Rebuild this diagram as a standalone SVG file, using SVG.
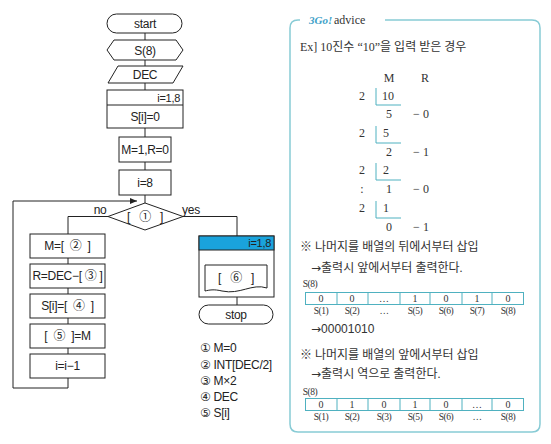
<svg xmlns="http://www.w3.org/2000/svg" width="551" height="444" viewBox="0 0 551 444">
<style>
.box{fill:#fff;stroke:#222;stroke-width:1}
.ln{fill:none;stroke:#222;stroke-width:1}
.ft{font-family:"Liberation Sans",Arial,"Noto Sans CJK KR",sans-serif;font-size:12px;fill:#222;text-anchor:middle;letter-spacing:-0.3px;white-space:pre}
.fr{font-family:"Liberation Sans",Arial,sans-serif;font-size:11px;fill:#222;text-anchor:end;letter-spacing:-0.3px}
.ans{font-family:"Liberation Sans","DejaVu Sans",sans-serif;font-size:12px;fill:#222;letter-spacing:-0.3px}
.kr{font-family:"Liberation Serif","Noto Sans CJK KR",serif;font-size:12px;fill:#333}
.ar{font-family:"DejaVu Sans",sans-serif;font-size:12px}
.sf{font-family:"Liberation Serif",serif;font-size:12px;fill:#333;text-anchor:middle}
.cv{font-family:"Liberation Serif",serif;font-size:10px;fill:#333;text-anchor:middle}
.cl{font-family:"Liberation Serif",serif;font-size:9.5px;fill:#333;text-anchor:middle;letter-spacing:-0.5px}
.teal{fill:none;stroke:#4fb1c0;stroke-width:1}
</style>
<defs>
<marker id="arr" markerWidth="8" markerHeight="8" refX="7" refY="4" orient="auto" markerUnits="userSpaceOnUse">
<path d="M0,1 L7,4 L0,7 Z" fill="#222"/>
</marker>
</defs>

<g id="connectors">
<path class="ln" d="M145,33 V40 M145,60 V66 M145,83 V90 M145,128 V137 M145,162 V170 M145,195 V203"/>
<path class="ln" d="M108,216.5 H68 V234 M68,258 V264 M68,288 V294 M68,318 V324 M68,348 V354"/>
<path class="ln" d="M68,378 V388 H13 V201 H137" marker-end="url(#arr)"/>
<path class="ln" d="M183,216.5 H237 V236 M237,250 V265 M237,297 V305"/>
</g>

<g id="start"><rect class="box" x="107" y="14" width="75" height="19" rx="9.5"/><text class="ft" x="145" y="28">start</text></g>
<g id="s8"><polygon class="box" points="114,40 176,40 183,50 176,60 114,60 107,50"/><text class="ft" x="145" y="55">S(8)</text></g>
<g id="dec"><polygon class="box" points="118,66 183,66 173,83 108,83"/><text class="ft" x="145" y="79">DEC</text></g>
<g id="loop1"><rect class="box" x="107" y="90" width="76" height="38"/><line class="ln" x1="107" y1="105" x2="183" y2="105"/><text class="fr" x="180" y="102">i=1,8</text><text class="ft" x="145" y="121">S[i]=0</text></g>
<g id="m1r0"><rect class="box" x="119" y="137" width="52" height="25"/><text class="ft" x="145" y="154">M=1,R=0</text></g>
<g id="i8"><rect class="box" x="119" y="170" width="52" height="25"/><text class="ft" x="145" y="187">i=8</text></g>
<g id="cond"><polygon class="box" points="108,216.5 145,203 183,216.5 145,230"/><text class="ft" x="145" y="221">[   ①   ]</text><text class="ft" x="100" y="214">no</text><text class="ft" x="191" y="214">yes</text></g>
<g id="m2"><rect class="box" x="30" y="234" width="75" height="24"/><text class="ft" x="67.5" y="250">M=[  ②  ]</text></g>
<g id="r3"><rect class="box" x="30" y="264" width="75" height="24"/><text class="ft" x="67.5" y="280">R=DEC−[ ③ ]</text></g>
<g id="s4"><rect class="box" x="30" y="294" width="75" height="24"/><text class="ft" x="67.5" y="310">S[i]=[  ④  ]</text></g>
<g id="s5"><rect class="box" x="30" y="324" width="75" height="24"/><text class="ft" x="67.5" y="340">[  ⑤  ]=M</text></g>
<g id="dec_i"><rect class="box" x="30" y="354" width="75" height="24"/><text class="ft" x="67.5" y="370">i=i−1</text></g>
<g id="loop2"><rect class="box" x="199" y="236" width="75" height="61"/><rect x="199" y="236" width="75" height="14" fill="#1aa3dc" stroke="#222" stroke-width="1"/><text class="fr" x="271" y="247">i=1,8</text></g>
<g id="out6"><path class="box" d="M205,265 H267 V288 C252,283 240,295 222,291 C214,289 209,290 205,291 Z"/><text class="ft" x="236" y="282">[   ⑥   ]</text></g>
<g id="stop"><rect class="box" x="199" y="305" width="74" height="19" rx="9.5"/><text class="ft" x="236" y="319">stop</text></g>

<g id="answers">
<text class="ans" x="200" y="352">① M=0</text>
<text class="ans" x="200" y="369">② INT[DEC/2]</text>
<text class="ans" x="200" y="385">③ M×2</text>
<text class="ans" x="200" y="401">④ DEC</text>
<text class="ans" x="200" y="417">⑤ S[i]</text>
</g>

<g id="advice">
<path d="M300,20 H298 Q290,20 290,28 V424 Q290,432 298,432 H532 Q540,432 540,424 V28 Q540,20 532,20 H385" fill="none" stroke="#88cbd5" stroke-width="1.5"/>
<text x="309" y="24" font-family="Liberation Serif,serif" font-style="italic" font-weight="bold" font-size="11" fill="#3d9fc8">3Go!</text>
<text x="334" y="24" font-family="Liberation Serif,serif" font-size="12" fill="#333">advice</text>
<text class="kr" x="300" y="51">Ex] 10진수 “10”을 입력 받은 경우</text>
<text class="sf" x="389" y="82">M</text><text class="sf" x="425" y="82">R</text>
<g class="sf">
<text x="362" y="100">2</text><text x="388" y="100">10</text>
<text x="389" y="118">5</text><text x="421" y="118">− 0</text>
<text x="362" y="137">2</text><text x="386" y="137">5</text>
<text x="389" y="156">2</text><text x="421" y="156">− 1</text>
<text x="362" y="174">2</text><text x="386" y="174">2</text>
<text x="362" y="193">:</text><text x="389" y="193">1</text><text x="421" y="193">− 0</text>
<text x="362" y="212">2</text><text x="386" y="212">1</text>
<text x="389" y="231">0</text><text x="421" y="231">− 1</text>
</g>
<path class="teal" d="M376,88 V105 H401 M376,126 V143 H401 M376,163 V180 H401 M376,201 V218 H401"/>
<text class="kr" x="300" y="251">※ 나머지를 배열의 뒤에서부터 삽입</text>
<text class="kr" x="311" y="272"><tspan class="ar">→</tspan>출력시 앞에서부터 출력한다.</text>
<text class="cl" x="310" y="287" text-anchor="start">S(8)</text>
<g>
<rect class="teal" x="305.5" y="292.5" width="218" height="12"/>
<path class="teal" d="M337,292.5 V304.5 M368,292.5 V304.5 M400,292.5 V304.5 M430,292.5 V304.5 M462,292.5 V304.5 M492,292.5 V304.5"/>
<g class="cv"><text x="321" y="302">0</text><text x="352" y="302">0</text><text x="384" y="302">…</text><text x="415" y="302">1</text><text x="446" y="302">0</text><text x="477" y="302">1</text><text x="508" y="302">0</text></g>
<g class="cl"><text x="321" y="314">S(1)</text><text x="352" y="314">S(2)</text><text x="384" y="314">…</text><text x="415" y="314">S(5)</text><text x="446" y="314">S(6)</text><text x="477" y="314">S(7)</text><text x="508" y="314">S(8)</text></g>
</g>
<text x="311" y="333" font-family="Liberation Sans,sans-serif" font-size="12" fill="#333"><tspan class="ar">→</tspan>00001010</text>
<text class="kr" x="300" y="359">※ 나머지를 배열의 앞에서부터 삽입</text>
<text class="kr" x="311" y="378"><tspan class="ar">→</tspan>출력시 역으로 출력한다.</text>
<text class="cl" x="310" y="395" text-anchor="start">S(8)</text>
<g>
<rect class="teal" x="305.5" y="398.5" width="218" height="12"/>
<path class="teal" d="M337,398.5 V410.5 M368,398.5 V410.5 M400,398.5 V410.5 M430,398.5 V410.5 M462,398.5 V410.5 M492,398.5 V410.5"/>
<g class="cv"><text x="321" y="408">0</text><text x="352" y="408">1</text><text x="384" y="408">0</text><text x="415" y="408">1</text><text x="446" y="408">0</text><text x="477" y="408">…</text><text x="508" y="408">0</text></g>
<g class="cl"><text x="321" y="420">S(1)</text><text x="352" y="420">S(2)</text><text x="384" y="420">S(3)</text><text x="415" y="420">S(5)</text><text x="446" y="420">S(6)</text><text x="477" y="420">…</text><text x="508" y="420">S(8)</text></g>
</g>
</g>
</svg>
